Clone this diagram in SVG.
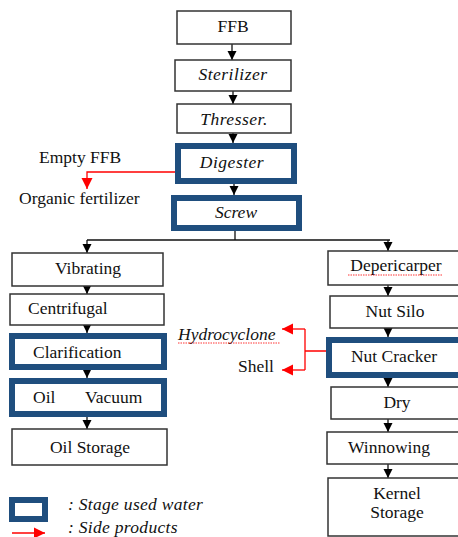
<svg xmlns="http://www.w3.org/2000/svg" width="458" height="537" viewBox="0 0 458 537">
<defs>
<marker id="ab" viewBox="0 0 10 10" refX="10" refY="5" markerUnits="userSpaceOnUse" markerWidth="9" markerHeight="12" orient="auto">
<path d="M0,0 L10,5 L0,10 z" fill="#000"/>
</marker>
<marker id="ar" viewBox="0 0 10 10" refX="10" refY="5" markerUnits="userSpaceOnUse" markerWidth="11" markerHeight="13" orient="auto">
<path d="M0,0 L10,5 L0,10 z" fill="#FF0000"/>
</marker>
</defs>
<rect width="458" height="537" fill="#fff"/>

<g id="connectors" fill="none">
<g stroke="#111" stroke-width="1.3" marker-end="url(#ab)">
<path d="M232,44 V60"/>
<path d="M233,91 V104"/>
<path d="M233,133 V143"/>
<path d="M234,184 V195"/>
<path d="M87,240 V253"/>
<path d="M388,240 V251"/>
<path d="M87,286 V294"/>
<path d="M87,325 V333"/>
<path d="M87,370 V378"/>
<path d="M87,417 V429"/>
<path d="M388,285 V296"/>
<path d="M388,328 V337"/>
<path d="M388,378 V387"/>
<path d="M388,419 V432"/>
<path d="M388,464 V478"/>
</g>
<path d="M235,231 V240 M87,240 H390" stroke="#111" stroke-width="1.3"/>
<g stroke="#FF0000" stroke-width="1.3">
<path d="M175,172 H87 V189" marker-end="url(#ar)"/>
<path d="M326,351 H305 M305,329 V370"/>
<path d="M305,329 H282" marker-end="url(#ar)"/>
<path d="M305,370 H282" marker-end="url(#ar)"/>
</g>
</g>

<g id="ffb"><rect fill="#fff" stroke="#333" stroke-width="1.5" x="177" y="11" width="114" height="33"/><text font-family="Liberation Serif" font-size="17.5" fill="#111" text-anchor="middle" x="233" y="32">FFB</text></g>
<g id="sterilizer"><rect fill="#fff" stroke="#333" stroke-width="1.5" x="175" y="60" width="116" height="31"/><text font-family="Liberation Serif" font-size="17.5" fill="#111" font-style="italic" text-anchor="middle" x="233" y="80" letter-spacing="0.5">Sterilizer</text></g>
<g id="thresser"><rect fill="#fff" stroke="#333" stroke-width="1.5" x="177" y="104" width="114" height="29"/><text font-family="Liberation Serif" font-size="17.5" fill="#111" font-style="italic" text-anchor="middle" x="234" y="125" letter-spacing="0.5">Thresser.</text></g>
<g id="digester"><rect fill="#fff" stroke="#1F4E7E" stroke-width="6" x="178" y="146" width="116" height="35"/><text font-family="Liberation Serif" font-size="17.5" fill="#111" font-style="italic" text-anchor="middle" x="232" y="168" letter-spacing="0.5">Digester</text></g>
<g id="screw"><rect fill="#fff" stroke="#1F4E7E" stroke-width="6" x="174" y="198" width="125" height="30"/><text font-family="Liberation Serif" font-size="17.5" fill="#111" font-style="italic" text-anchor="middle" x="236" y="218">Screw</text></g>

<g id="vibrating"><rect fill="#fff" stroke="#333" stroke-width="1.5" x="12" y="253" width="151" height="33"/><text font-family="Liberation Serif" font-size="17.5" fill="#111" text-anchor="middle" x="88" y="274">Vibrating</text></g>
<g id="centrifugal"><rect fill="#fff" stroke="#333" stroke-width="1.5" x="10" y="294" width="154" height="31"/><text font-family="Liberation Serif" font-size="17.5" fill="#111" x="28" y="314">Centrifugal</text></g>
<g id="clarification"><rect fill="#fff" stroke="#1F4E7E" stroke-width="6" x="12" y="336" width="152" height="31"/><text font-family="Liberation Serif" font-size="17.5" fill="#111" x="33" y="358">Clarification</text></g>
<g id="oil-vacuum"><rect fill="#fff" stroke="#1F4E7E" stroke-width="6" x="12" y="381" width="152" height="33"/><text font-family="Liberation Serif" font-size="17.5" fill="#111" x="33" y="403">Oil</text><text font-family="Liberation Serif" font-size="17.5" fill="#111" x="85" y="403">Vacuum</text></g>
<g id="oil-storage"><rect fill="#fff" stroke="#333" stroke-width="1.5" x="12" y="429" width="155" height="36"/><text font-family="Liberation Serif" font-size="17.5" fill="#111" text-anchor="middle" x="90" y="453">Oil Storage</text></g>

<g id="depericarper"><rect fill="#fff" stroke="#333" stroke-width="1.5" x="328" y="251" width="140" height="34"/><text font-family="Liberation Serif" font-size="17.5" fill="#111" text-anchor="middle" x="396" y="271">Depericarper</text><path d="M348,275 H443" fill="none" stroke="#FF0000" stroke-width="0.8" stroke-dasharray="1.5 1"/></g>
<g id="nut-silo"><rect fill="#fff" stroke="#333" stroke-width="1.5" x="330" y="296" width="140" height="32"/><text font-family="Liberation Serif" font-size="17.5" fill="#111" text-anchor="middle" x="395" y="317">Nut Silo</text></g>
<g id="nut-cracker"><rect fill="#fff" stroke="#1F4E7E" stroke-width="6" x="329" y="340" width="140" height="35"/><text font-family="Liberation Serif" font-size="17.5" fill="#111" text-anchor="middle" x="394" y="362">Nut Cracker</text></g>
<g id="dry"><rect fill="#fff" stroke="#333" stroke-width="1.5" x="331" y="387" width="140" height="32"/><text font-family="Liberation Serif" font-size="17.5" fill="#111" text-anchor="middle" x="397" y="408">Dry</text></g>
<g id="winnowing"><rect fill="#fff" stroke="#333" stroke-width="1.5" x="327" y="432" width="140" height="32"/><text font-family="Liberation Serif" font-size="17.5" fill="#111" text-anchor="middle" x="389" y="453">Winnowing</text></g>
<g id="kernel-storage"><rect fill="#fff" stroke="#333" stroke-width="1.5" x="328" y="478" width="140" height="58"/><text font-family="Liberation Serif" font-size="17.5" fill="#111" text-anchor="middle" x="397" y="499">Kernel</text><text font-family="Liberation Serif" font-size="17.5" fill="#111" text-anchor="middle" x="397" y="518">Storage</text></g>

<g id="empty-ffb"><text font-family="Liberation Serif" font-size="17.5" fill="#111" x="39" y="163">Empty FFB</text></g>
<g id="organic-fertilizer"><text font-family="Liberation Serif" font-size="17.5" fill="#111" x="19" y="204">Organic fertilizer</text></g>
<g id="hydrocyclone"><text font-family="Liberation Serif" font-size="17.5" fill="#111" font-style="italic" x="178" y="340">Hydrocyclone</text><path d="M178,343 H280" fill="none" stroke="#FF0000" stroke-width="0.8" stroke-dasharray="1.5 1"/></g>
<g id="shell"><text font-family="Liberation Serif" font-size="17.5" fill="#111" x="238" y="372">Shell</text></g>

<g id="legend">
<rect fill="#fff" stroke="#1F4E7E" stroke-width="6" x="12" y="500" width="33" height="19"/>
<text font-family="Liberation Serif" font-size="17.5" fill="#111" font-style="italic" x="68" y="510" letter-spacing="0.3">: Stage used water</text>
<path d="M12,533 H45" fill="none" stroke="#FF0000" stroke-width="1.3" marker-end="url(#ar)"/>
<text font-family="Liberation Serif" font-size="17.5" fill="#111" font-style="italic" x="68" y="533" letter-spacing="0.3">: Side products</text>
</g>
</svg>
